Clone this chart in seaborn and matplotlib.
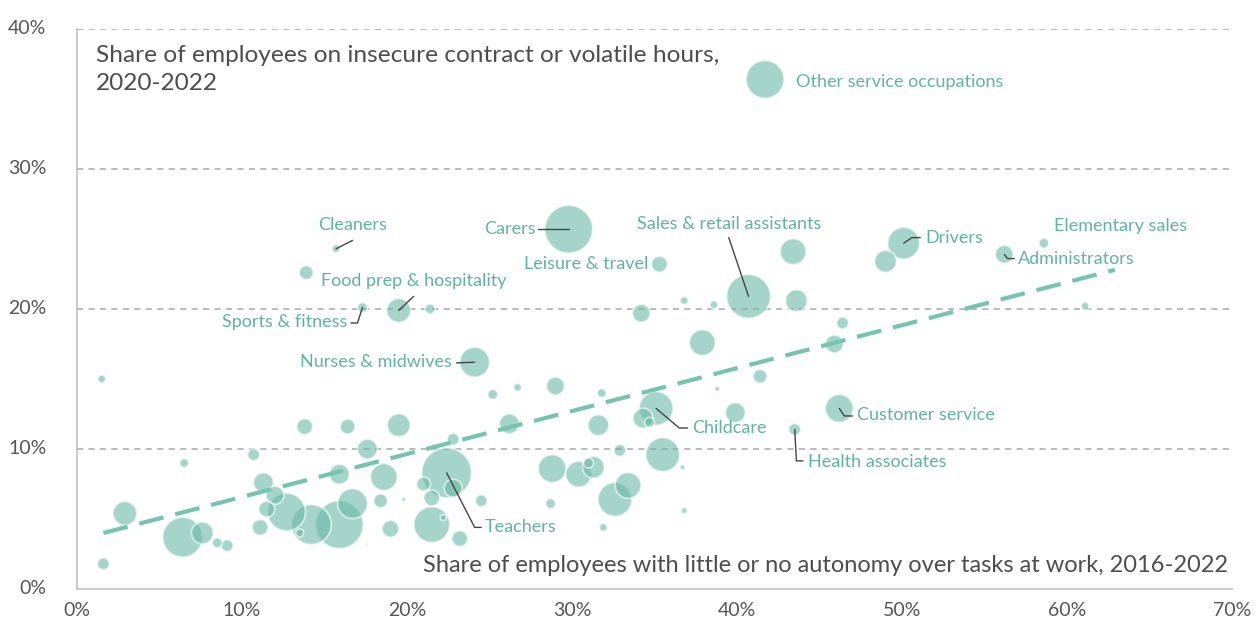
import numpy as np
import pandas as pd
import matplotlib
matplotlib.use("Agg")
import matplotlib.pyplot as plt
import seaborn as sns

# ---------------- data ----------------
autonomy = [1.5, 6.5, 10.7, 13.8, 16.4, 19.5, 17.6, 22.8, 15.9, 18.6,
            11.3, 12.0, 22.4, 21.0, 22.8, 21.5, 18.4, 19.8, 2.9, 11.5,
            12.7, 16.7, 14.2, 15.9, 13.5, 11.1, 19.0, 21.5, 22.2, 23.2,
            6.4, 7.6, 8.5, 9.1, 1.6, 17.6, 24.1, 25.2, 26.7, 29.0,
            31.8, 26.2, 31.6, 35.1, 34.3, 34.7, 41.4, 38.8, 39.9, 43.5,
            32.9, 35.5, 36.7, 28.8, 30.4, 31.3, 31.0, 33.4, 32.6, 24.5,
            28.7, 36.8, 31.9, 15.7, 13.9, 17.3, 19.5, 21.4, 29.8, 35.3,
            43.4, 40.7, 43.6, 36.8, 38.6, 34.2, 37.9, 46.4, 45.9, 50.1,
            49.0, 56.2, 58.6, 61.1, 46.2, 41.7]
insecure = [15.0, 9.0, 9.6, 11.6, 11.6, 11.7, 10.0, 10.7, 8.2, 8.0,
            7.6, 6.7, 8.3, 7.5, 7.2, 6.5, 6.3, 6.4, 5.4, 5.7,
            5.5, 6.1, 4.6, 4.6, 4.0, 4.4, 4.3, 4.6, 5.1, 3.6,
            3.7, 4.0, 3.3, 3.1, 1.8, 3.2, 16.2, 13.9, 14.4, 14.5,
            14.0, 11.8, 11.7, 12.9, 12.2, 11.9, 15.2, 14.3, 12.6, 11.4,
            9.9, 9.6, 8.7, 8.6, 8.2, 8.7, 9.0, 7.4, 6.4, 6.3,
            6.1, 5.6, 4.4, 24.3, 22.6, 20.1, 19.9, 20.0, 25.7, 23.2,
            24.1, 20.9, 20.6, 20.6, 20.3, 19.7, 17.6, 19.0, 17.5, 24.7,
            23.4, 23.9, 24.7, 20.2, 12.9, 36.4]
# relative employment (bubble area)
employment = [16, 20, 36, 64, 56, 132, 100, 36, 100, 182,
              100, 81, 625, 49, 81, 64, 49, 4, 144, 64,
              361, 225, 400, 576, 16, 64, 72, 324, 9, 64,
              400, 121, 25, 36, 36, 1, 225, 25, 16, 81,
              20, 100, 110, 289, 100, 25, 49, 6, 100, 36,
              36, 289, 6, 196, 169, 121, 25, 169, 289, 36,
              25, 9, 16, 16, 49, 25, 144, 25, 576, 64,
              169, 484, 121, 16, 16, 81, 169, 36, 81, 256,
              121, 81, 25, 16, 196, 361]

trend_x = [1.6, 62.9]
trend_y = [4.0, 22.8]

x_ticks = [0, 10, 20, 30, 40, 50, 60, 70]
y_ticks = [0, 10, 20, 30, 40]
x_tick_labels = ["0%", "10%", "20%", "30%", "40%", "50%", "60%", "70%"]
y_tick_labels = ["0%", "10%", "20%", "30%", "40%"]

y_title = "Share of employees on insecure contract or volatile hours,\n2020-2022"
x_title = "Share of employees with little or no autonomy over tasks at work, 2016-2022"

# label name, point index
labelled = {
    "Other service occupations": 85, "Cleaners": 63, "Carers": 68,
    "Sales & retail assistants": 71, "Leisure & travel": 69,
    "Food prep & hospitality": 66, "Sports & fitness": 65,
    "Nurses & midwives": 36, "Drivers": 79, "Elementary sales": 82,
    "Administrators": 81, "Customer service": 84, "Childcare": 43,
    "Health associates": 49, "Teachers": 12,
}

# ---------------- style ----------------
sns.set_theme(style="white")
plt.rcParams["font.family"] = ["Lato", "DejaVu Sans"]

BUBBLE = "#69b9a7"
TEXT_TEAL = "#5fb3a0"
LINE_TEAL = "#74c4b0"
GRID = "#a8a8a8"
TXT = "#4d4d4d"

df = pd.DataFrame({"autonomy": autonomy, "insecure": insecure, "employment": employment})
df["idx"] = np.arange(len(df))
df = df.sort_values("employment", ascending=False)

fig = plt.figure(figsize=(12.57, 6.24), dpi=100)
ax = fig.add_axes([77 / 1257, 35 / 624, (1232 - 77) / 1257, (589 - 29) / 624])

max_emp = max(employment)
sns.scatterplot(data=df, x="autonomy", y="insecure", size="employment",
                sizes=(0, 2.07 * max_emp), size_norm=(0, max_emp),
                color=BUBBLE, alpha=0.6, edgecolor="white", linewidth=1.3,
                legend=False, ax=ax, zorder=3)

sns.lineplot(x=trend_x, y=trend_y, ax=ax, color=LINE_TEAL, lw=3,
             dashes=False, zorder=4)
ax.lines[-1].set_dashes((6, 2.9))
ax.lines[-1].set_solid_capstyle("butt")

ax.set_xlim(0, 70)
ax.set_ylim(0, 40)
ax.set_xticks(x_ticks)
ax.set_xticklabels(x_tick_labels)
ax.set_yticks(y_ticks)
ax.set_yticklabels(y_tick_labels)
ax.tick_params(axis="both", length=0, labelsize=14, labelcolor="#555555")
ax.tick_params(axis="x", pad=9)
ax.tick_params(axis="y", pad=22)
for lab in ax.get_yticklabels():
    lab.set_verticalalignment("center")
ax.set_xlabel("")
ax.set_ylabel("")

for yv in y_ticks[1:]:
    ax.axhline(yv, color=GRID, lw=1.1, ls=(0, (4, 3.5)), zorder=1)
for s in ["top", "right"]:
    ax.spines[s].set_visible(False)
for s in ["left", "bottom"]:
    ax.spines[s].set_color("#c0c0c0")
    ax.spines[s].set_linewidth(1.2)

ax.text(1.15, 38.85, y_title, ha="left", va="top", fontsize=17.6, color=TXT,
        linespacing=1.42, zorder=6)
ax.text(69.75, 1.65, x_title, ha="right", va="center", fontsize=17.0, color=TXT,
        zorder=6)

# label placement (text pos, ha, leader path)
place = {
    "Other service occupations": ((43.6, 36.2), "left", None),
    "Cleaners": ((16.7, 26.0), "center", [(16.7, 24.9)]),
    "Carers": ((27.8, 25.75), "right", [(27.95, 25.7)]),
    "Sales & retail assistants": ((39.5, 26.1), "center", [(39.5, 25.1)]),
    "Leisure & travel": ((34.6, 23.2), "right", None),
    "Food prep & hospitality": ((20.4, 22.0), "center", [(20.4, 20.9)]),
    "Sports & fitness": ((16.4, 19.1), "right", [(17.0, 19.0), (16.6, 19.0)]),
    "Nurses & midwives": ((22.7, 16.2), "right", [(23.0, 16.15)]),
    "Drivers": ((51.4, 25.1), "left", [(50.6, 25.1), (51.1, 25.1)]),
    "Elementary sales": ((59.2, 25.9), "left", None),
    "Administrators": ((57.0, 23.6), "left", [(56.4, 23.6), (56.8, 23.6)]),
    "Customer service": ((47.3, 12.4), "left", [(46.5, 12.36), (47.0, 12.36)]),
    "Childcare": ((37.3, 11.5), "left", [(36.5, 11.5), (37.0, 11.5)]),
    "Health associates": ((44.3, 9.1), "left", [(43.6, 9.15), (44.0, 9.15)]),
    "Teachers": ((24.7, 4.4), "left", [(24.1, 4.4), (24.5, 4.4)]),
}

for name, i in labelled.items():
    (tx, ty), ha, path = place[name]
    ax.text(tx, ty, name, ha=ha, va="center", fontsize=13, color=TEXT_TEAL, zorder=6)
    if path:
        xs = [autonomy[i]] + [p[0] for p in path]
        ys = [insecure[i]] + [p[1] for p in path]
        ax.plot(xs, ys, color="#444444", lw=1.0, zorder=5)

fig.savefig("out.png", dpi=100)
